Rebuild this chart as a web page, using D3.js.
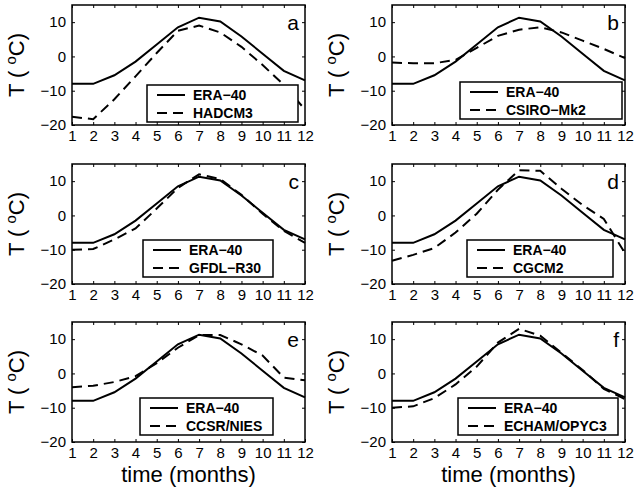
<!DOCTYPE html>
<html>
<head>
<meta charset="utf-8">
<script src="https://cdn.jsdelivr.net/npm/d3@7"></script>
<style>
  body { margin: 0; background: #fff; }
  text { font-family: "Liberation Sans", Arial, sans-serif; fill: #000; }
</style>
</head>
<body>
<script>
// data
let months = [1, 2, 3, 4, 5, 6, 7, 8, 9, 10, 11, 12];
let era40 = [-8, -8, -5.5, -1.5, 3.5, 8.5, 11.3, 10.2, 5.8, 0.8, -4.2, -7];
let hadcm3 = [-17.6, -18.3, -12.5, -5.8, 1, 7.5, 9, 7, 2.8, -2.5, -8.3, -15.5];
let csiro = [-1.8, -2, -2, -1, 2.5, 6, 7.8, 8.5, 7, 4.6, 2.2, -0.5];
let gfdl = [-10, -9.8, -7, -3.8, 2, 8, 12, 10.6, 6, 0.5, -4.5, -8];
let cgcm2 = [-13.2, -11.5, -9.5, -5, 0.5, 7.5, 13.2, 13, 7.8, 3, -1, -11];
let ccsr = [-4, -3.6, -2.5, -0.8, 3, 7.5, 11.2, 11.2, 8.5, 5.2, -1.2, -2];
let echam = [-10, -9.6, -7.2, -3.2, 2, 9, 13, 11, 6, 1, -4.5, -7.5];

let models = ["HADCM3", "CSIRO\u2212Mk2", "GFDL\u2212R30", "CGCM2", "CCSR/NIES", "ECHAM/OPYC3"];
let modelSeries = [hadcm3, csiro, gfdl, cgcm2, ccsr, echam];
let letters = ["a", "b", "c", "d", "e", "f"];
let yTicks = [-20, -10, 0, 10];

let svg = d3.select("body")
    .append("svg")
    .attr("width", 635)
    .attr("height", 491);

let colLeft = [72, 392],
    rowTop = [5, 164, 322],
    pw = 233,
    ph = 120;

// legend boxes, relative to each panel: [left, top, width]
let legendBox = [[75, 80, 151], [68, 77, 162], [71, 76, 130], [75, 76, 146], [68, 76, 133], [66, 76, 160]];

let x = d3.scaleLinear().domain([1, 12]).range([0, pw]);
let y = d3.scaleLinear().domain([-20, 15]).range([ph, 0]);

let line = d3.line()
    .x(function(d, i) { return x(months[i]) })
    .y(function(d) { return y(d) });

models.forEach(function(name, k) {
    let col = k % 2, row = Math.floor(k / 2);
    let g = svg.append("g")
        .attr("transform", "translate(" + colLeft[col] + "," + rowTop[row] + ")");

    // curves
    g.append("path")
        .datum(era40)
        .attr("fill", "none")
        .attr("stroke", "#000")
        .attr("stroke-width", 2)
        .attr("d", line);
    g.append("path")
        .datum(modelSeries[k])
        .attr("fill", "none")
        .attr("stroke", "#000")
        .attr("stroke-width", 2)
        .attr("stroke-dasharray", "10,6")
        .attr("d", line);

    // axes with inward ticks on all sides
    let xb = g.append("g")
        .attr("transform", "translate(0," + ph + ")")
        .call(d3.axisBottom(x).tickValues(months).tickSize(-3).tickPadding(5).tickFormat(d3.format("d")));
    let xt = g.append("g")
        .call(d3.axisTop(x).tickValues(months).tickSize(-3).tickFormat(""));
    let yl = g.append("g")
        .call(d3.axisLeft(y).tickValues(yTicks).tickSize(-3).tickPadding(6).tickFormat(function(d) { return d < 0 ? "\u2212" + (-d) : d }));
    let yr = g.append("g")
        .attr("transform", "translate(" + pw + ",0)")
        .call(d3.axisRight(y).tickValues(yTicks).tickSize(-3).tickFormat(""));
    [xb, xt, yl, yr].forEach(function(a) {
        a.select(".domain").remove();
        a.selectAll("line").attr("stroke", "#000").attr("stroke-width", 1);
        a.selectAll("text").style("font-size", "15px").style("font-family", "Liberation Sans, Arial, sans-serif");
    });
    g.append("rect")
        .attr("width", pw)
        .attr("height", ph)
        .attr("fill", "none")
        .attr("stroke", "#000")
        .attr("stroke-width", 1.5);

    // panel letter
    g.append("text")
        .attr("x", pw - 6)
        .attr("y", 25)
        .attr("text-anchor", "end")
        .style("font-size", "21px")
        .text(letters[k]);

    // legend
    let lb = legendBox[k], bx = lb[0], by = lb[1], bw = lb[2], bh = 37;
    let lg = g.append("g");
    lg.append("rect")
        .attr("x", bx).attr("y", by)
        .attr("width", bw).attr("height", bh)
        .attr("fill", "#fff").attr("stroke", "#000").attr("stroke-width", 1.5);
    lg.append("text").attr("x", bx + 46).attr("y", by + 15)
        .style("font-size", "14px").style("font-weight", "bold").text("ERA\u221240");
    lg.append("text").attr("x", bx + 46).attr("y", by + 33)
        .style("font-size", "14px").style("font-weight", "bold").text(name);
    lg.append("line")
        .attr("x1", bx + 10).attr("x2", bx + 38)
        .attr("y1", by + 10).attr("y2", by + 10)
        .attr("stroke", "#000").attr("stroke-width", 2);
    lg.append("line")
        .attr("x1", bx + 10).attr("x2", bx + 38)
        .attr("y1", by + 28).attr("y2", by + 28)
        .attr("stroke", "#000").attr("stroke-width", 2)
        .attr("stroke-dasharray", "10,6");

    // y label
    let yt = g.append("text")
        .attr("transform", "translate(-48," + (ph / 2) + ") rotate(-90)")
        .attr("text-anchor", "middle")
        .style("font-size", "22px");
    yt.append("tspan").text("T ( ");
    yt.append("tspan").attr("dy", -8).style("font-size", "15px").text("o");
    yt.append("tspan").attr("dy", 8).text("C)");

    // x label on bottom row
    if (row === 2) {
        g.append("text")
            .attr("x", pw / 2)
            .attr("y", ph + 40)
            .attr("text-anchor", "middle")
            .style("font-size", "22px")
            .text("time (months)");
    }
});
</script>
</body>
</html>
